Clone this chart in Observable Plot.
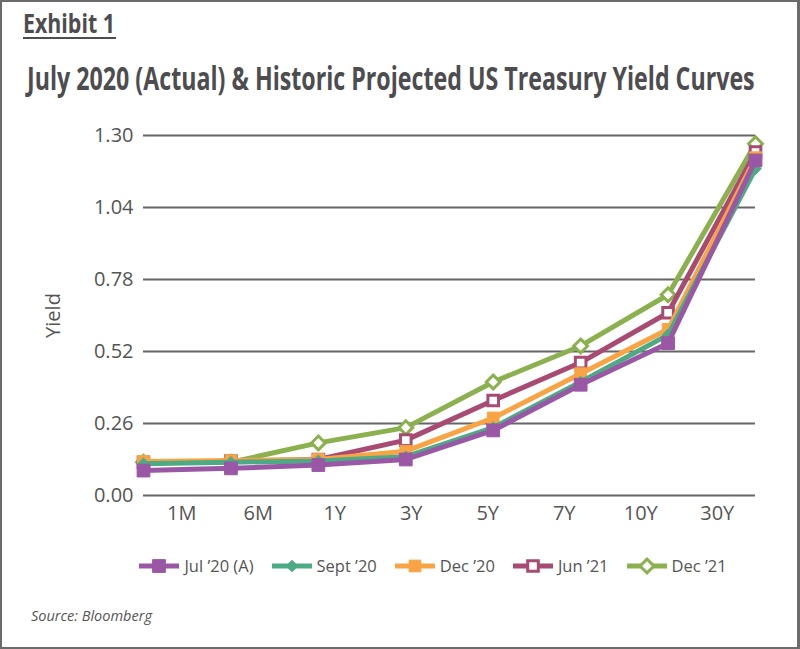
<!DOCTYPE html>
<html>
<head>
<meta charset="utf-8">
<script src="https://cdn.jsdelivr.net/npm/d3@7"></script>
<script src="https://cdn.jsdelivr.net/npm/@observablehq/plot@0.6"></script>
<style>
  html, body { margin: 0; padding: 0; background: #fff; }
  #page { position: relative; width: 800px; height: 649px; overflow: hidden; background: #fff; font-family: "Open Sans", sans-serif; color: #555; }
  #frame { position: absolute; left: 0; top: 0; width: 800px; height: 649px; box-sizing: border-box; border: 2px solid #6b6b6b; border-right-width: 3px; pointer-events: none; }
  #header { position: absolute; left: 0; top: 0; }
  #chart { position: absolute; left: 0; top: 110px; }
  #legend { position: absolute; left: 0; top: 554px; width: 800px; display: flex; justify-content: center; align-items: center; gap: 18px; padding-left: 66px; box-sizing: border-box; font-size: 16.5px; color: #555; }
  #legend .item { display: flex; align-items: center; gap: 5px; white-space: nowrap; }
  #source { position: absolute; left: 31px; top: 606px; font-style: italic; font-size: 14.5px; color: #555; }
</style>
</head>
<body>
<div id="page">
  <svg id="header" width="800" height="110"></svg>
  <div id="chart"></div>
  <div id="legend"></div>
  <div id="source">Source: Bloomberg</div>
  <div id="frame"></div>
</div>
<script>
// Treasury maturities along the curve
const categories = ["1M", "6M", "1Y", "3Y", "5Y", "7Y", "10Y", "30Y"];

// Series names as shown in the legend
const seriesNames = ["Jul \u201920 (A)", "Sept \u201920", "Dec \u201920", "Jun \u201921", "Dec \u201921"];

// Yields (%) per maturity for each curve
const jul20 = [0.09, 0.098, 0.11, 0.13, 0.235, 0.40, 0.55, 1.21];
const sep20 = [0.115, 0.12, 0.125, 0.14, 0.245, 0.41, 0.58, 1.18];
const dec20 = [0.123, 0.126, 0.13, 0.16, 0.28, 0.44, 0.60, 1.22];
const jun21 = [0.12, 0.124, 0.13, 0.20, 0.343, 0.48, 0.66, 1.24];
const dec21 = [0.12, 0.12, 0.19, 0.245, 0.41, 0.54, 0.725, 1.27];

// Y axis tick values
const yTicks = [0, 0.26, 0.52, 0.78, 1.04, 1.30];

const seriesValues = [jul20, sep20, dec20, jun21, dec21];

// Styling per series: colour and marker
const colors = ["#9a57a5", "#4caa84", "#f8a445", "#a84a72", "#8ab14d"];
const symbols = ["square", "diamond2", "square", "square", "diamond2"];
const radii = [7.2, 5.2, 6.6, 6.0, 6.2];
const fills = [colors[0], colors[1], colors[2], "#ffffff", "#ffffff"];
const strokeWidths = [1, 1, 1, 3, 3];

// Long-format rows for Plot
const rows = [];
seriesValues.forEach((vals, k) => {
  vals.forEach((v, i) => rows.push({ series: seriesNames[k], k, i, maturity: categories[i], value: v }));
});

// Header: exhibit tag and title, set in a narrowed bold face
const header = d3.select("#header");
function condensedText(x, y, width, size, str) {
  const g = header.append("g");
  const t = g.append("text")
    .attr("x", 0).attr("y", 0)
    .attr("font-family", "Open Sans").attr("font-weight", 700).attr("font-size", size)
    .attr("fill", "#4d4d4f")
    .text(str);
  const natural = t.node().getComputedTextLength();
  g.attr("transform", `translate(${x},${y}) scale(${width / natural},1)`);
}
condensedText(23, 33, 92, 26, "Exhibit 1");
header.append("line")
  .attr("x1", 23).attr("x2", 116).attr("y1", 38).attr("y2", 38)
  .attr("stroke", "#4d4d4f").attr("stroke-width", 2);
condensedText(27, 90, 728, 33, "July 2020 (Actual) & Historic Projected US Treasury Yield Curves");

// Category labels sit at band centres while points sit on band edges
const n = categories.length;
const labelPositions = categories.map((c, i) => (i + 0.5) * (n - 1) / n);

const marks = [
  Plot.gridY(yTicks, { stroke: "#666", strokeOpacity: 1, strokeWidth: 2 }),
  Plot.axisY({
    ticks: yTicks, tickSize: 0, tickPadding: 10, tickFormat: d3.format(".2f"),
    fill: "#555", fontSize: 20,
    label: "Yield", labelAnchor: "center", labelOffset: 98, labelArrow: "none"
  }),
  Plot.axisX({
    ticks: labelPositions, tickSize: 0, tickPadding: 10,
    tickFormat: d => categories[Math.round(d * n / (n - 1) - 0.5)],
    fill: "#555", fontSize: 20, label: null
  })
];

// Draw later series first so the actual curve sits on top
for (const k of [4, 3, 2, 1, 0]) {
  const data = rows.filter(r => r.k === k);
  marks.push(Plot.line(data, {
    x: "i", y: "value", stroke: colors[k], strokeWidth: 5, strokeLinejoin: "round"
  }));
  marks.push(Plot.dot(data, {
    x: "i", y: "value", symbol: symbols[k], r: radii[k],
    fill: fills[k], stroke: colors[k], strokeWidth: strokeWidths[k]
  }));
}

const chart = Plot.plot({
  width: 800,
  height: 425,
  marginTop: 25,
  marginBottom: 40,
  marginLeft: 143,
  marginRight: 45,
  x: { domain: [0, n - 1] },
  y: { domain: [0, 1.3] },
  style: { fontFamily: "Open Sans", fontSize: "20px", color: "#555", background: "transparent" },
  marks
});
document.getElementById("chart").appendChild(chart);

// Legend: line-and-marker swatches
const legend = d3.select("#legend");
seriesNames.forEach((name, k) => {
  const item = legend.append("div").attr("class", "item");
  const sw = item.append("svg").attr("width", 40).attr("height", 20);
  sw.append("line").attr("x1", 0).attr("x2", 40).attr("y1", 10).attr("y2", 10)
    .attr("stroke", colors[k]).attr("stroke-width", 5);
  const sym = symbols[k] === "square" ? d3.symbolSquare : d3.symbolDiamond2;
  sw.append("path")
    .attr("transform", "translate(20,10)")
    .attr("d", d3.symbol(sym, Math.PI * radii[k] * radii[k])())
    .attr("fill", fills[k]).attr("stroke", colors[k]).attr("stroke-width", strokeWidths[k]);
  item.append("span").text(name);
});
</script>
</body>
</html>
